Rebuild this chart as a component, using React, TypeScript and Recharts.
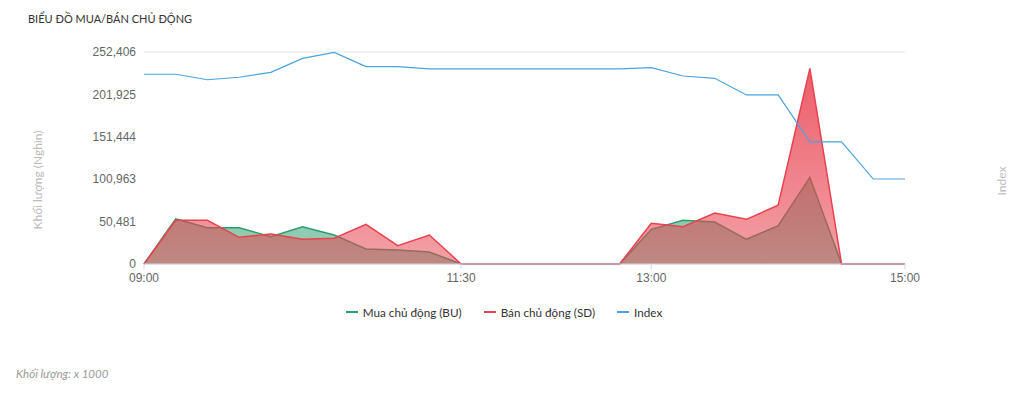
import React from 'react';
import { ComposedChart, Area, Line, XAxis, YAxis, CartesianGrid, Legend } from 'recharts';

const times = [
  '09:00', '09:15', '09:30', '09:45', '10:00', '10:15', '10:30', '10:45', '11:00', '11:15', '11:30',
  '11:45', '12:00', '12:15', '12:30', '12:45', '13:00', '13:15', '13:30', '13:45', '14:00', '14:15',
  '14:30', '14:45', '15:00',
];
const buVolume = [
  0, 53600, 43200, 43200, 32500, 44400, 34500, 17900, 16700, 14300, 0,
  0, 0, 0, 0, 0, 41300, 52000, 50000, 29400, 45600, 103200,
  0, 0, 0,
];
const sdVolume = [
  0, 52000, 52000, 31800, 35700, 29400, 30600, 47300, 21800, 34500, 0,
  0, 0, 0, 0, 0, 48400, 44400, 60700, 53200, 69900, 233000,
  0, 0, 0,
];
const indexValues = [
  1287.4, 1287.4, 1284.3, 1285.7, 1288.5, 1296.4, 1299.8, 1291.7, 1291.7, 1290.4, 1290.4,
  1290.4, 1290.4, 1290.4, 1290.4, 1290.4, 1291.1, 1286.4, 1285.1, 1275.7, 1275.7, 1249.1,
  1249.1, 1228.1, 1228.1,
];
const volumeTicks = [0, 50481, 100963, 151444, 201925, 252406];
const timeTicks = ['09:00', '11:30', '13:00', '15:00'];
const legendOrder = ['Mua chủ động (BU)', 'Bán chủ động (SD)', 'Index'];

const data = times.map((t, i) => ({
  time: t,
  bu: buVolume[i],
  sd: sdVolume[i],
  index: indexValues[i],
}));

const GREEN = '#2f9e6e';
const RED = '#e8424f';
const BLUE = '#4aa3df';
const FONT = 'Lato, "Noto Sans", sans-serif';
const TICK_FONT = '"Liberation Sans", Arial, sans-serif';

const renderLegend = (props: any) => {
  const items = [...(props.payload || [])].sort(
    (a: any, b: any) => legendOrder.indexOf(a.value) - legendOrder.indexOf(b.value)
  );
  return (
    <div style={{ height: 36, display: 'flex', justifyContent: 'center', alignItems: 'center', fontFamily: FONT, fontSize: 11.7, color: '#333' }}>
      {items.map((p: any) => (
        <div key={p.value} style={{ display: 'flex', alignItems: 'center', margin: '0 11px' }}>
          <span style={{ display: 'inline-block', width: 12, height: 2, background: p.color, marginRight: 5 }} />
          <span>{p.value}</span>
        </div>
      ))}
    </div>
  );
};

const App: React.FC = () => {
  return (
    <div style={{ position: 'absolute', left: 0, top: 0, width: 1024, height: 394, background: '#fff' }}>
      <div style={{ position: 'absolute', left: 28, top: 12, fontFamily: FONT, fontSize: 11, color: '#333' }}>
        BIỂU ĐỒ MUA/BÁN CHỦ ĐỘNG
      </div>
      <ComposedChart
        width={1024}
        height={340}
        data={data}
        margin={{ top: 52, right: 59, left: 84, bottom: 10 }}
      >
        <defs>
          <linearGradient id="sdFill" x1="0" y1="0" x2="0" y2="1">
            <stop offset="0%" stopColor={RED} stopOpacity={0.85} />
            <stop offset="100%" stopColor={RED} stopOpacity={0.5} />
          </linearGradient>
          <linearGradient id="buFill" x1="0" y1="0" x2="0" y2="1">
            <stop offset="0%" stopColor={GREEN} stopOpacity={0.6} />
            <stop offset="100%" stopColor={GREEN} stopOpacity={0.5} />
          </linearGradient>
        </defs>
        <CartesianGrid vertical={false} stroke="#e6e6e6" />
        <XAxis
          dataKey="time"
          scale="point"
          ticks={timeTicks}
          interval={0}
          height={30}
          stroke="#ccd6eb"
          tickSize={5}
          tickMargin={4}
          tick={{ fill: '#666', fontSize: 12, fontFamily: TICK_FONT }}
        />
        <YAxis
          yAxisId="vol"
          width={60}
          domain={[0, 252406]}
          ticks={volumeTicks}
          axisLine={false}
          tickLine={false}
          tickMargin={2}
          tickFormatter={(v: number) => v.toLocaleString('en-US')}
          tick={{ fill: '#666', fontSize: 12, fontFamily: TICK_FONT }}
          label={{
            content: () => (
              <text x={42} y={180} transform="rotate(-90 42 180)" textAnchor="middle" fill="#bbb" fontSize={12} fontFamily={FONT}>
                Khối lượng (Nghìn)
              </text>
            ),
          }}
        />
        <YAxis
          yAxisId="idx"
          orientation="right"
          width={60}
          domain={[1180, 1300]}
          axisLine={false}
          tickLine={false}
          tick={false}
          label={{
            content: () => (
              <text x={1006} y={181} transform="rotate(-90 1006 181)" textAnchor="middle" fill="#bbb" fontSize={12} fontFamily={FONT}>
                Index
              </text>
            ),
          }}
        />
        <Area
          yAxisId="vol"
          type="linear"
          dataKey="bu"
          name="Mua chủ động (BU)"
          stroke={GREEN}
          strokeWidth={1.5}
          fill="url(#buFill)"
          fillOpacity={1}
          dot={false}
          activeDot={false}
          isAnimationActive={false}
        />
        <Area
          yAxisId="vol"
          type="linear"
          dataKey="sd"
          name="Bán chủ động (SD)"
          stroke={RED}
          strokeWidth={1.5}
          fill="url(#sdFill)"
          fillOpacity={1}
          dot={false}
          activeDot={false}
          isAnimationActive={false}
        />
        <Line
          yAxisId="idx"
          type="linear"
          dataKey="index"
          name="Index"
          stroke={BLUE}
          strokeWidth={1.2}
          dot={false}
          activeDot={false}
          isAnimationActive={false}
        />
        <Legend verticalAlign="bottom" content={renderLegend} wrapperStyle={{ left: 0, width: 1008 }} />
      </ComposedChart>
      <div style={{ position: 'absolute', left: 16, top: 367, fontFamily: FONT, fontSize: 11.5, fontStyle: 'italic', color: '#999' }}>
        Khối lượng: x 1000
      </div>
    </div>
  );
};

export default App;
